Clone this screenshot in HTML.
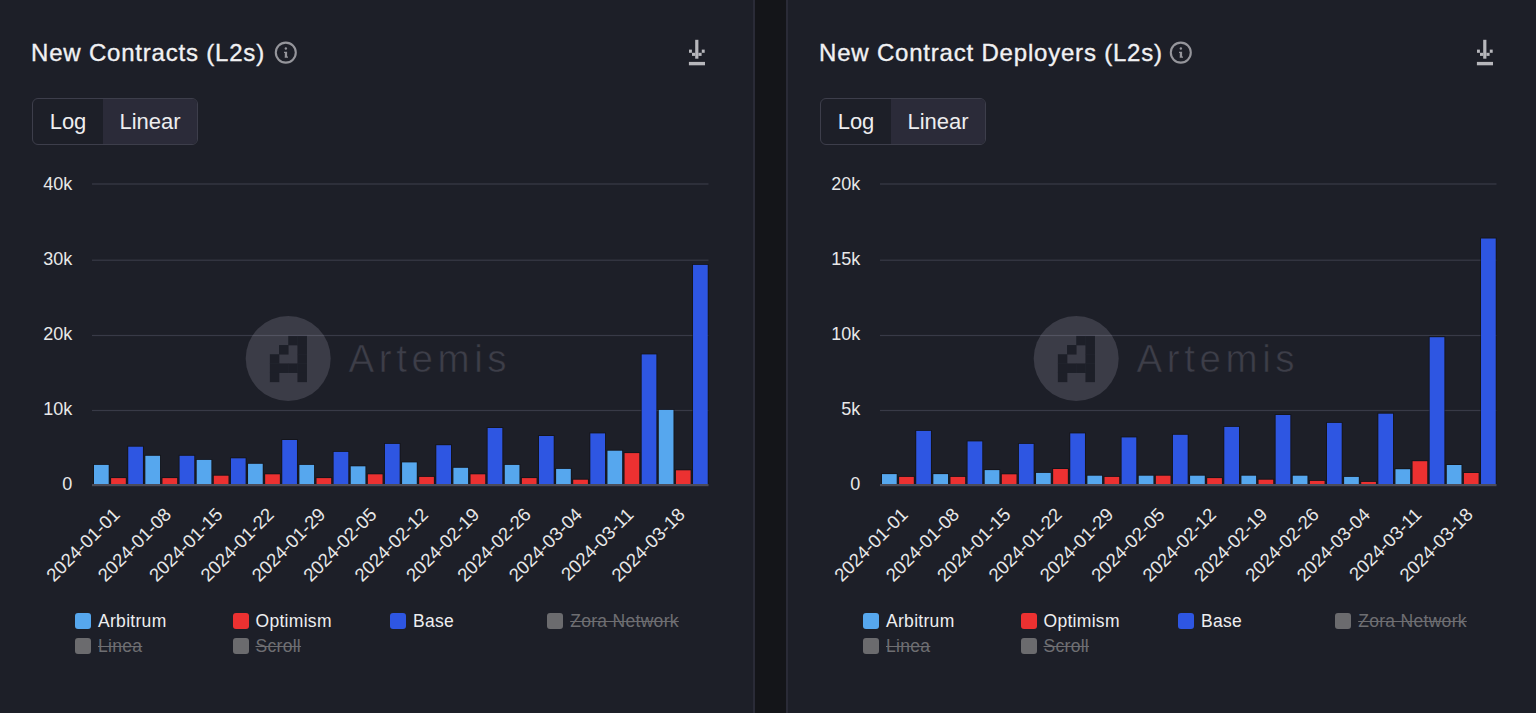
<!DOCTYPE html>
<html><head><meta charset="utf-8"><style>
html,body{margin:0;padding:0;width:1536px;height:713px;overflow:hidden;background:#141519;font-family:"Liberation Sans",sans-serif;}
.pn{position:absolute;top:0;height:713px;background:#1d1f28;}
.ch{position:absolute;top:0;font-family:"Liberation Sans",sans-serif;}
.ic{position:absolute;}
.title{position:absolute;top:39px;font-size:24px;line-height:28px;color:#f1f1f3;white-space:nowrap;letter-spacing:0.8px;-webkit-text-stroke:0.35px #f1f1f3;}
.tog{position:absolute;top:98px;width:164px;height:45px;border:1px solid #3d3e4b;border-radius:6px;overflow:hidden;}
.tl{position:absolute;left:0;top:0;width:70px;height:45px;line-height:45px;text-align:center;font-size:22px;color:#eeeef0;}
.tr{position:absolute;left:70px;top:0;width:94px;height:45px;line-height:45px;text-align:center;font-size:22px;color:#eeeef0;background:#2b2b39;}
.sw{position:absolute;width:16px;height:16px;border-radius:3px;}
.lt{position:absolute;font-size:17.5px;letter-spacing:0.3px;line-height:24px;color:#eeeef0;white-space:nowrap;}
.lt.hid{color:#6e6e72;text-decoration:line-through;}
</style></head><body>
<div class="pn" style="left:-2px;width:755px;border-right:2px solid #2a2b37;"></div>
<div class="pn" style="left:786px;width:760px;border-left:2px solid #2a2b37;"></div>
<svg class="ch" style="left:0px" width="755" height="713" viewBox="0 0 755 713">
<circle cx="288.2" cy="358.6" r="42.5" fill="#3b3c47"/>
<rect x="288.25" y="335.85" width="9.50" height="9.50" fill="#1d1f28"/>
<rect x="297.45" y="335.85" width="9.50" height="9.50" fill="#1d1f28"/>
<rect x="279.05" y="345.05" width="9.50" height="9.50" fill="#1d1f28"/>
<rect x="297.45" y="345.05" width="9.50" height="9.50" fill="#1d1f28"/>
<rect x="269.85" y="354.25" width="9.50" height="9.50" fill="#1d1f28"/>
<rect x="297.45" y="354.25" width="9.50" height="9.50" fill="#1d1f28"/>
<rect x="269.85" y="363.45" width="9.50" height="9.50" fill="#1d1f28"/>
<rect x="279.05" y="363.45" width="9.50" height="9.50" fill="#1d1f28"/>
<rect x="288.25" y="363.45" width="9.50" height="9.50" fill="#1d1f28"/>
<rect x="297.45" y="363.45" width="9.50" height="9.50" fill="#1d1f28"/>
<rect x="269.85" y="372.65" width="9.50" height="9.50" fill="#1d1f28"/>
<rect x="297.45" y="372.65" width="9.50" height="9.50" fill="#1d1f28"/>
<text x="348.5" y="372.3" font-size="38.5" letter-spacing="4.6" fill="#3d3e49" stroke="#1d1f28" stroke-width="0.6">Artemis</text>
<rect x="92.0" y="183.40" width="616.5" height="1.2" fill="rgba(215,215,245,0.15)"/>
<rect x="92.0" y="259.60" width="616.5" height="1.2" fill="rgba(215,215,245,0.15)"/>
<rect x="92.0" y="334.90" width="616.5" height="1.2" fill="rgba(215,215,245,0.15)"/>
<rect x="92.0" y="409.90" width="616.5" height="1.2" fill="rgba(215,215,245,0.15)"/>
<text x="72.2" y="190.1" text-anchor="end" font-size="18" fill="#e8e8e8">40k</text>
<text x="72.2" y="265.1" text-anchor="end" font-size="18" fill="#e8e8e8">30k</text>
<text x="72.2" y="340.1" text-anchor="end" font-size="18" fill="#e8e8e8">20k</text>
<text x="72.2" y="415.3" text-anchor="end" font-size="18" fill="#e8e8e8">10k</text>
<text x="72.2" y="490.4" text-anchor="end" font-size="18" fill="#e8e8e8">0</text>
<rect x="93.10" y="464.00" width="16.50" height="20.00" fill="#0c0d10" opacity="0.55"/>
<rect x="94.00" y="464.90" width="14.7" height="19.10" fill="#56a7ee"/>
<rect x="110.21" y="477.20" width="16.50" height="6.80" fill="#0c0d10" opacity="0.55"/>
<rect x="111.11" y="478.10" width="14.7" height="5.90" fill="#ec3131"/>
<rect x="127.33" y="445.80" width="16.50" height="38.20" fill="#0c0d10" opacity="0.55"/>
<rect x="128.23" y="446.70" width="14.7" height="37.30" fill="#2e56e2"/>
<rect x="144.44" y="454.90" width="16.50" height="29.10" fill="#0c0d10" opacity="0.55"/>
<rect x="145.34" y="455.80" width="14.7" height="28.20" fill="#56a7ee"/>
<rect x="161.56" y="477.20" width="16.50" height="6.80" fill="#0c0d10" opacity="0.55"/>
<rect x="162.46" y="478.10" width="14.7" height="5.90" fill="#ec3131"/>
<rect x="178.67" y="454.90" width="16.50" height="29.10" fill="#0c0d10" opacity="0.55"/>
<rect x="179.57" y="455.80" width="14.7" height="28.20" fill="#2e56e2"/>
<rect x="195.79" y="459.00" width="16.50" height="25.00" fill="#0c0d10" opacity="0.55"/>
<rect x="196.69" y="459.90" width="14.7" height="24.10" fill="#56a7ee"/>
<rect x="212.91" y="474.80" width="16.50" height="9.20" fill="#0c0d10" opacity="0.55"/>
<rect x="213.81" y="475.70" width="14.7" height="8.30" fill="#ec3131"/>
<rect x="230.02" y="457.40" width="16.50" height="26.60" fill="#0c0d10" opacity="0.55"/>
<rect x="230.92" y="458.30" width="14.7" height="25.70" fill="#2e56e2"/>
<rect x="247.13" y="462.90" width="16.50" height="21.10" fill="#0c0d10" opacity="0.55"/>
<rect x="248.03" y="463.80" width="14.7" height="20.20" fill="#56a7ee"/>
<rect x="264.25" y="473.40" width="16.50" height="10.60" fill="#0c0d10" opacity="0.55"/>
<rect x="265.15" y="474.30" width="14.7" height="9.70" fill="#ec3131"/>
<rect x="281.37" y="439.10" width="16.50" height="44.90" fill="#0c0d10" opacity="0.55"/>
<rect x="282.26" y="440.00" width="14.7" height="44.00" fill="#2e56e2"/>
<rect x="298.48" y="464.00" width="16.50" height="20.00" fill="#0c0d10" opacity="0.55"/>
<rect x="299.38" y="464.90" width="14.7" height="19.10" fill="#56a7ee"/>
<rect x="315.60" y="477.20" width="16.50" height="6.80" fill="#0c0d10" opacity="0.55"/>
<rect x="316.50" y="478.10" width="14.7" height="5.90" fill="#ec3131"/>
<rect x="332.71" y="451.00" width="16.50" height="33.00" fill="#0c0d10" opacity="0.55"/>
<rect x="333.61" y="451.90" width="14.7" height="32.10" fill="#2e56e2"/>
<rect x="349.82" y="465.40" width="16.50" height="18.60" fill="#0c0d10" opacity="0.55"/>
<rect x="350.72" y="466.30" width="14.7" height="17.70" fill="#56a7ee"/>
<rect x="366.94" y="473.40" width="16.50" height="10.60" fill="#0c0d10" opacity="0.55"/>
<rect x="367.84" y="474.30" width="14.7" height="9.70" fill="#ec3131"/>
<rect x="384.06" y="443.00" width="16.50" height="41.00" fill="#0c0d10" opacity="0.55"/>
<rect x="384.95" y="443.90" width="14.7" height="40.10" fill="#2e56e2"/>
<rect x="401.17" y="461.50" width="16.50" height="22.50" fill="#0c0d10" opacity="0.55"/>
<rect x="402.07" y="462.40" width="14.7" height="21.60" fill="#56a7ee"/>
<rect x="418.28" y="476.00" width="16.50" height="8.00" fill="#0c0d10" opacity="0.55"/>
<rect x="419.18" y="476.90" width="14.7" height="7.10" fill="#ec3131"/>
<rect x="435.40" y="444.30" width="16.50" height="39.70" fill="#0c0d10" opacity="0.55"/>
<rect x="436.30" y="445.20" width="14.7" height="38.80" fill="#2e56e2"/>
<rect x="452.51" y="466.90" width="16.50" height="17.10" fill="#0c0d10" opacity="0.55"/>
<rect x="453.41" y="467.80" width="14.7" height="16.20" fill="#56a7ee"/>
<rect x="469.63" y="473.40" width="16.50" height="10.60" fill="#0c0d10" opacity="0.55"/>
<rect x="470.53" y="474.30" width="14.7" height="9.70" fill="#ec3131"/>
<rect x="486.75" y="427.10" width="16.50" height="56.90" fill="#0c0d10" opacity="0.55"/>
<rect x="487.64" y="428.00" width="14.7" height="56.00" fill="#2e56e2"/>
<rect x="503.86" y="464.00" width="16.50" height="20.00" fill="#0c0d10" opacity="0.55"/>
<rect x="504.76" y="464.90" width="14.7" height="19.10" fill="#56a7ee"/>
<rect x="520.98" y="477.20" width="16.50" height="6.80" fill="#0c0d10" opacity="0.55"/>
<rect x="521.88" y="478.10" width="14.7" height="5.90" fill="#ec3131"/>
<rect x="538.09" y="435.10" width="16.50" height="48.90" fill="#0c0d10" opacity="0.55"/>
<rect x="538.99" y="436.00" width="14.7" height="48.00" fill="#2e56e2"/>
<rect x="555.21" y="468.00" width="16.50" height="16.00" fill="#0c0d10" opacity="0.55"/>
<rect x="556.11" y="468.90" width="14.7" height="15.10" fill="#56a7ee"/>
<rect x="572.32" y="478.80" width="16.50" height="5.20" fill="#0c0d10" opacity="0.55"/>
<rect x="573.22" y="479.70" width="14.7" height="4.30" fill="#ec3131"/>
<rect x="589.44" y="432.50" width="16.50" height="51.50" fill="#0c0d10" opacity="0.55"/>
<rect x="590.34" y="433.40" width="14.7" height="50.60" fill="#2e56e2"/>
<rect x="606.55" y="449.80" width="16.50" height="34.20" fill="#0c0d10" opacity="0.55"/>
<rect x="607.45" y="450.70" width="14.7" height="33.30" fill="#56a7ee"/>
<rect x="623.66" y="452.20" width="16.50" height="31.80" fill="#0c0d10" opacity="0.55"/>
<rect x="624.56" y="453.10" width="14.7" height="30.90" fill="#ec3131"/>
<rect x="640.78" y="353.50" width="16.50" height="130.50" fill="#0c0d10" opacity="0.55"/>
<rect x="641.68" y="354.40" width="14.7" height="129.60" fill="#2e56e2"/>
<rect x="657.89" y="409.00" width="16.50" height="75.00" fill="#0c0d10" opacity="0.55"/>
<rect x="658.79" y="409.90" width="14.7" height="74.10" fill="#56a7ee"/>
<rect x="675.01" y="469.40" width="16.50" height="14.60" fill="#0c0d10" opacity="0.55"/>
<rect x="675.91" y="470.30" width="14.7" height="13.70" fill="#ec3131"/>
<rect x="692.12" y="264.00" width="16.50" height="220.00" fill="#0c0d10" opacity="0.55"/>
<rect x="693.02" y="264.90" width="14.7" height="219.10" fill="#2e56e2"/>
<rect x="92.0" y="484" width="616.5" height="2.2" fill="#4c4c58"/>
<text transform="translate(116.69,511.5) rotate(-45)" text-anchor="end" font-size="18.5" fill="#e8e8e8" dy="6">2024-01-01</text>
<text transform="translate(168.06,511.5) rotate(-45)" text-anchor="end" font-size="18.5" fill="#e8e8e8" dy="6">2024-01-08</text>
<text transform="translate(219.44,511.5) rotate(-45)" text-anchor="end" font-size="18.5" fill="#e8e8e8" dy="6">2024-01-15</text>
<text transform="translate(270.81,511.5) rotate(-45)" text-anchor="end" font-size="18.5" fill="#e8e8e8" dy="6">2024-01-22</text>
<text transform="translate(322.19,511.5) rotate(-45)" text-anchor="end" font-size="18.5" fill="#e8e8e8" dy="6">2024-01-29</text>
<text transform="translate(373.56,511.5) rotate(-45)" text-anchor="end" font-size="18.5" fill="#e8e8e8" dy="6">2024-02-05</text>
<text transform="translate(424.94,511.5) rotate(-45)" text-anchor="end" font-size="18.5" fill="#e8e8e8" dy="6">2024-02-12</text>
<text transform="translate(476.31,511.5) rotate(-45)" text-anchor="end" font-size="18.5" fill="#e8e8e8" dy="6">2024-02-19</text>
<text transform="translate(527.69,511.5) rotate(-45)" text-anchor="end" font-size="18.5" fill="#e8e8e8" dy="6">2024-02-26</text>
<text transform="translate(579.06,511.5) rotate(-45)" text-anchor="end" font-size="18.5" fill="#e8e8e8" dy="6">2024-03-04</text>
<text transform="translate(630.44,511.5) rotate(-45)" text-anchor="end" font-size="18.5" fill="#e8e8e8" dy="6">2024-03-11</text>
<text transform="translate(681.81,511.5) rotate(-45)" text-anchor="end" font-size="18.5" fill="#e8e8e8" dy="6">2024-03-18</text>
</svg>
<div class="title" style="left:31px">New Contracts (L2s)</div>
<svg class="ic" style="left:274px;top:41px" width="24" height="24" viewBox="0 0 24 24"><circle cx="11.8" cy="11.6" r="10" fill="none" stroke="#95959b" stroke-width="2.1"/><circle cx="11.85" cy="7.45" r="1.2" fill="#95959b"/><path d="M10 10.7 H13.1 V15.4 H14.0 V16.8 H10.7 V15.4 H10.8 V11.9 H10 Z" fill="#95959b"/></svg>
<svg class="ic" style="left:686px;top:38px" width="22" height="30" viewBox="0 0 22 30" fill="#b7b7bc"><rect x="9.2" y="1.8" width="3.2" height="18.9"/><rect x="3" y="11.6" width="2.9" height="3.2"/><rect x="6" y="14.8" width="3.2" height="3.1"/><rect x="15.8" y="11.6" width="2.9" height="3.2"/><rect x="12.4" y="14.8" width="3.2" height="3.1"/><rect x="2.9" y="23.9" width="16.1" height="3.4"/></svg>
<div class="tog" style="left:32px"><div class="tl">Log</div><div class="tr">Linear</div></div>
<div class="sw" style="left:75px;top:613px;background:#56a7ee"></div>
<div class="lt" style="left:98px;top:609.3px">Arbitrum</div>
<div class="sw" style="left:232.5px;top:613px;background:#ec3131"></div>
<div class="lt" style="left:255.5px;top:609.3px">Optimism</div>
<div class="sw" style="left:390px;top:613px;background:#2e56e2"></div>
<div class="lt" style="left:413px;top:609.3px">Base</div>
<div class="sw" style="left:547.2px;top:613px;background:#6b6b6e"></div>
<div class="lt hid" style="left:570.2px;top:609.3px">Zora Network</div>
<div class="sw" style="left:75px;top:638px;background:#6b6b6e"></div>
<div class="lt hid" style="left:98px;top:634.3px">Linea</div>
<div class="sw" style="left:232.5px;top:638px;background:#6b6b6e"></div>
<div class="lt hid" style="left:255.5px;top:634.3px">Scroll</div>
<svg class="ch" style="left:788px" width="755" height="713" viewBox="0 0 755 713">
<circle cx="288.2" cy="358.6" r="42.5" fill="#3b3c47"/>
<rect x="288.25" y="335.85" width="9.50" height="9.50" fill="#1d1f28"/>
<rect x="297.45" y="335.85" width="9.50" height="9.50" fill="#1d1f28"/>
<rect x="279.05" y="345.05" width="9.50" height="9.50" fill="#1d1f28"/>
<rect x="297.45" y="345.05" width="9.50" height="9.50" fill="#1d1f28"/>
<rect x="269.85" y="354.25" width="9.50" height="9.50" fill="#1d1f28"/>
<rect x="297.45" y="354.25" width="9.50" height="9.50" fill="#1d1f28"/>
<rect x="269.85" y="363.45" width="9.50" height="9.50" fill="#1d1f28"/>
<rect x="279.05" y="363.45" width="9.50" height="9.50" fill="#1d1f28"/>
<rect x="288.25" y="363.45" width="9.50" height="9.50" fill="#1d1f28"/>
<rect x="297.45" y="363.45" width="9.50" height="9.50" fill="#1d1f28"/>
<rect x="269.85" y="372.65" width="9.50" height="9.50" fill="#1d1f28"/>
<rect x="297.45" y="372.65" width="9.50" height="9.50" fill="#1d1f28"/>
<text x="348.5" y="372.3" font-size="38.5" letter-spacing="4.6" fill="#3d3e49" stroke="#1d1f28" stroke-width="0.6">Artemis</text>
<rect x="92.0" y="183.40" width="616.5" height="1.2" fill="rgba(215,215,245,0.15)"/>
<rect x="92.0" y="259.60" width="616.5" height="1.2" fill="rgba(215,215,245,0.15)"/>
<rect x="92.0" y="334.90" width="616.5" height="1.2" fill="rgba(215,215,245,0.15)"/>
<rect x="92.0" y="409.90" width="616.5" height="1.2" fill="rgba(215,215,245,0.15)"/>
<text x="72.2" y="190.1" text-anchor="end" font-size="18" fill="#e8e8e8">20k</text>
<text x="72.2" y="265.1" text-anchor="end" font-size="18" fill="#e8e8e8">15k</text>
<text x="72.2" y="340.1" text-anchor="end" font-size="18" fill="#e8e8e8">10k</text>
<text x="72.2" y="415.3" text-anchor="end" font-size="18" fill="#e8e8e8">5k</text>
<text x="72.2" y="490.4" text-anchor="end" font-size="18" fill="#e8e8e8">0</text>
<rect x="93.10" y="473.20" width="16.50" height="10.80" fill="#0c0d10" opacity="0.55"/>
<rect x="94.00" y="474.10" width="14.7" height="9.90" fill="#56a7ee"/>
<rect x="110.21" y="476.00" width="16.50" height="8.00" fill="#0c0d10" opacity="0.55"/>
<rect x="111.11" y="476.90" width="14.7" height="7.10" fill="#ec3131"/>
<rect x="127.33" y="430.00" width="16.50" height="54.00" fill="#0c0d10" opacity="0.55"/>
<rect x="128.23" y="430.90" width="14.7" height="53.10" fill="#2e56e2"/>
<rect x="144.44" y="473.20" width="16.50" height="10.80" fill="#0c0d10" opacity="0.55"/>
<rect x="145.34" y="474.10" width="14.7" height="9.90" fill="#56a7ee"/>
<rect x="161.56" y="476.00" width="16.50" height="8.00" fill="#0c0d10" opacity="0.55"/>
<rect x="162.46" y="476.90" width="14.7" height="7.10" fill="#ec3131"/>
<rect x="178.67" y="440.50" width="16.50" height="43.50" fill="#0c0d10" opacity="0.55"/>
<rect x="179.57" y="441.40" width="14.7" height="42.60" fill="#2e56e2"/>
<rect x="195.79" y="469.20" width="16.50" height="14.80" fill="#0c0d10" opacity="0.55"/>
<rect x="196.69" y="470.10" width="14.7" height="13.90" fill="#56a7ee"/>
<rect x="212.91" y="473.40" width="16.50" height="10.60" fill="#0c0d10" opacity="0.55"/>
<rect x="213.81" y="474.30" width="14.7" height="9.70" fill="#ec3131"/>
<rect x="230.02" y="443.00" width="16.50" height="41.00" fill="#0c0d10" opacity="0.55"/>
<rect x="230.92" y="443.90" width="14.7" height="40.10" fill="#2e56e2"/>
<rect x="247.13" y="472.00" width="16.50" height="12.00" fill="#0c0d10" opacity="0.55"/>
<rect x="248.03" y="472.90" width="14.7" height="11.10" fill="#56a7ee"/>
<rect x="264.25" y="468.10" width="16.50" height="15.90" fill="#0c0d10" opacity="0.55"/>
<rect x="265.15" y="469.00" width="14.7" height="15.00" fill="#ec3131"/>
<rect x="281.37" y="432.50" width="16.50" height="51.50" fill="#0c0d10" opacity="0.55"/>
<rect x="282.26" y="433.40" width="14.7" height="50.60" fill="#2e56e2"/>
<rect x="298.48" y="474.80" width="16.50" height="9.20" fill="#0c0d10" opacity="0.55"/>
<rect x="299.38" y="475.70" width="14.7" height="8.30" fill="#56a7ee"/>
<rect x="315.60" y="476.00" width="16.50" height="8.00" fill="#0c0d10" opacity="0.55"/>
<rect x="316.50" y="476.90" width="14.7" height="7.10" fill="#ec3131"/>
<rect x="332.71" y="436.50" width="16.50" height="47.50" fill="#0c0d10" opacity="0.55"/>
<rect x="333.61" y="437.40" width="14.7" height="46.60" fill="#2e56e2"/>
<rect x="349.82" y="474.80" width="16.50" height="9.20" fill="#0c0d10" opacity="0.55"/>
<rect x="350.72" y="475.70" width="14.7" height="8.30" fill="#56a7ee"/>
<rect x="366.94" y="474.80" width="16.50" height="9.20" fill="#0c0d10" opacity="0.55"/>
<rect x="367.84" y="475.70" width="14.7" height="8.30" fill="#ec3131"/>
<rect x="384.06" y="433.90" width="16.50" height="50.10" fill="#0c0d10" opacity="0.55"/>
<rect x="384.95" y="434.80" width="14.7" height="49.20" fill="#2e56e2"/>
<rect x="401.17" y="474.80" width="16.50" height="9.20" fill="#0c0d10" opacity="0.55"/>
<rect x="402.07" y="475.70" width="14.7" height="8.30" fill="#56a7ee"/>
<rect x="418.28" y="477.20" width="16.50" height="6.80" fill="#0c0d10" opacity="0.55"/>
<rect x="419.18" y="478.10" width="14.7" height="5.90" fill="#ec3131"/>
<rect x="435.40" y="426.00" width="16.50" height="58.00" fill="#0c0d10" opacity="0.55"/>
<rect x="436.30" y="426.90" width="14.7" height="57.10" fill="#2e56e2"/>
<rect x="452.51" y="474.80" width="16.50" height="9.20" fill="#0c0d10" opacity="0.55"/>
<rect x="453.41" y="475.70" width="14.7" height="8.30" fill="#56a7ee"/>
<rect x="469.63" y="478.80" width="16.50" height="5.20" fill="#0c0d10" opacity="0.55"/>
<rect x="470.53" y="479.70" width="14.7" height="4.30" fill="#ec3131"/>
<rect x="486.75" y="414.10" width="16.50" height="69.90" fill="#0c0d10" opacity="0.55"/>
<rect x="487.64" y="415.00" width="14.7" height="69.00" fill="#2e56e2"/>
<rect x="503.86" y="474.80" width="16.50" height="9.20" fill="#0c0d10" opacity="0.55"/>
<rect x="504.76" y="475.70" width="14.7" height="8.30" fill="#56a7ee"/>
<rect x="520.98" y="480.00" width="16.50" height="4.00" fill="#0c0d10" opacity="0.55"/>
<rect x="521.88" y="480.90" width="14.7" height="3.10" fill="#ec3131"/>
<rect x="538.09" y="422.00" width="16.50" height="62.00" fill="#0c0d10" opacity="0.55"/>
<rect x="538.99" y="422.90" width="14.7" height="61.10" fill="#2e56e2"/>
<rect x="555.21" y="476.00" width="16.50" height="8.00" fill="#0c0d10" opacity="0.55"/>
<rect x="556.11" y="476.90" width="14.7" height="7.10" fill="#56a7ee"/>
<rect x="572.32" y="481.00" width="16.50" height="3.00" fill="#0c0d10" opacity="0.55"/>
<rect x="573.22" y="481.90" width="14.7" height="2.10" fill="#ec3131"/>
<rect x="589.44" y="412.80" width="16.50" height="71.20" fill="#0c0d10" opacity="0.55"/>
<rect x="590.34" y="413.70" width="14.7" height="70.30" fill="#2e56e2"/>
<rect x="606.55" y="468.30" width="16.50" height="15.70" fill="#0c0d10" opacity="0.55"/>
<rect x="607.45" y="469.20" width="14.7" height="14.80" fill="#56a7ee"/>
<rect x="623.66" y="460.30" width="16.50" height="23.70" fill="#0c0d10" opacity="0.55"/>
<rect x="624.56" y="461.20" width="14.7" height="22.80" fill="#ec3131"/>
<rect x="640.78" y="336.30" width="16.50" height="147.70" fill="#0c0d10" opacity="0.55"/>
<rect x="641.68" y="337.20" width="14.7" height="146.80" fill="#2e56e2"/>
<rect x="657.89" y="464.10" width="16.50" height="19.90" fill="#0c0d10" opacity="0.55"/>
<rect x="658.79" y="465.00" width="14.7" height="19.00" fill="#56a7ee"/>
<rect x="675.01" y="472.10" width="16.50" height="11.90" fill="#0c0d10" opacity="0.55"/>
<rect x="675.91" y="473.00" width="14.7" height="11.00" fill="#ec3131"/>
<rect x="692.12" y="237.60" width="16.50" height="246.40" fill="#0c0d10" opacity="0.55"/>
<rect x="693.02" y="238.50" width="14.7" height="245.50" fill="#2e56e2"/>
<rect x="92.0" y="484" width="616.5" height="2.2" fill="#4c4c58"/>
<text transform="translate(116.69,511.5) rotate(-45)" text-anchor="end" font-size="18.5" fill="#e8e8e8" dy="6">2024-01-01</text>
<text transform="translate(168.06,511.5) rotate(-45)" text-anchor="end" font-size="18.5" fill="#e8e8e8" dy="6">2024-01-08</text>
<text transform="translate(219.44,511.5) rotate(-45)" text-anchor="end" font-size="18.5" fill="#e8e8e8" dy="6">2024-01-15</text>
<text transform="translate(270.81,511.5) rotate(-45)" text-anchor="end" font-size="18.5" fill="#e8e8e8" dy="6">2024-01-22</text>
<text transform="translate(322.19,511.5) rotate(-45)" text-anchor="end" font-size="18.5" fill="#e8e8e8" dy="6">2024-01-29</text>
<text transform="translate(373.56,511.5) rotate(-45)" text-anchor="end" font-size="18.5" fill="#e8e8e8" dy="6">2024-02-05</text>
<text transform="translate(424.94,511.5) rotate(-45)" text-anchor="end" font-size="18.5" fill="#e8e8e8" dy="6">2024-02-12</text>
<text transform="translate(476.31,511.5) rotate(-45)" text-anchor="end" font-size="18.5" fill="#e8e8e8" dy="6">2024-02-19</text>
<text transform="translate(527.69,511.5) rotate(-45)" text-anchor="end" font-size="18.5" fill="#e8e8e8" dy="6">2024-02-26</text>
<text transform="translate(579.06,511.5) rotate(-45)" text-anchor="end" font-size="18.5" fill="#e8e8e8" dy="6">2024-03-04</text>
<text transform="translate(630.44,511.5) rotate(-45)" text-anchor="end" font-size="18.5" fill="#e8e8e8" dy="6">2024-03-11</text>
<text transform="translate(681.81,511.5) rotate(-45)" text-anchor="end" font-size="18.5" fill="#e8e8e8" dy="6">2024-03-18</text>
</svg>
<div class="title" style="left:819px">New Contract Deployers (L2s)</div>
<svg class="ic" style="left:1169px;top:41px" width="24" height="24" viewBox="0 0 24 24"><circle cx="11.8" cy="11.6" r="10" fill="none" stroke="#95959b" stroke-width="2.1"/><circle cx="11.85" cy="7.45" r="1.2" fill="#95959b"/><path d="M10 10.7 H13.1 V15.4 H14.0 V16.8 H10.7 V15.4 H10.8 V11.9 H10 Z" fill="#95959b"/></svg>
<svg class="ic" style="left:1474px;top:38px" width="22" height="30" viewBox="0 0 22 30" fill="#b7b7bc"><rect x="9.2" y="1.8" width="3.2" height="18.9"/><rect x="3" y="11.6" width="2.9" height="3.2"/><rect x="6" y="14.8" width="3.2" height="3.1"/><rect x="15.8" y="11.6" width="2.9" height="3.2"/><rect x="12.4" y="14.8" width="3.2" height="3.1"/><rect x="2.9" y="23.9" width="16.1" height="3.4"/></svg>
<div class="tog" style="left:820px"><div class="tl">Log</div><div class="tr">Linear</div></div>
<div class="sw" style="left:863px;top:613px;background:#56a7ee"></div>
<div class="lt" style="left:886px;top:609.3px">Arbitrum</div>
<div class="sw" style="left:1020.5px;top:613px;background:#ec3131"></div>
<div class="lt" style="left:1043.5px;top:609.3px">Optimism</div>
<div class="sw" style="left:1178px;top:613px;background:#2e56e2"></div>
<div class="lt" style="left:1201px;top:609.3px">Base</div>
<div class="sw" style="left:1335.2px;top:613px;background:#6b6b6e"></div>
<div class="lt hid" style="left:1358.2px;top:609.3px">Zora Network</div>
<div class="sw" style="left:863px;top:638px;background:#6b6b6e"></div>
<div class="lt hid" style="left:886px;top:634.3px">Linea</div>
<div class="sw" style="left:1020.5px;top:638px;background:#6b6b6e"></div>
<div class="lt hid" style="left:1043.5px;top:634.3px">Scroll</div>
</body></html>
